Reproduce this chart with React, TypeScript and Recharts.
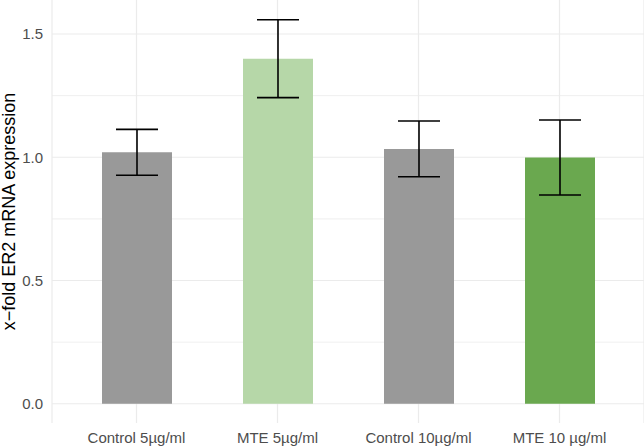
import React from "react";
import {
  BarChart,
  Bar,
  XAxis,
  YAxis,
  CartesianGrid,
  ErrorBar,
  Cell,
} from "recharts";

// Treatment groups and measured x-fold expression (mean ± error)
const groups = ["Control 5µg/ml", "MTE 5µg/ml", "Control 10µg/ml", "MTE 10 µg/ml"];
const means = [1.02, 1.4, 1.034, 0.999];
const errors = [0.093, 0.158, 0.113, 0.152];
const fills = ["#999999", "#b6d7a8", "#999999", "#6aa84f"];

const yTicks = [0, 0.5, 1.0, 1.5];
const yMinorTicks = [0.25, 0.75, 1.25];

const data = groups.map((g, i) => ({ group: g, value: means[i], err: errors[i] }));

const GRID = "#ebebeb";
const FONT = "Liberation Sans, Arial, Helvetica, sans-serif";

const YTitle = (props: any) => {
  const vb = props.viewBox || {};
  const cx = vb.x + 9;
  const cy = vb.y + vb.height / 2;
  return (
    <text
      x={cx}
      y={cy}
      transform={`rotate(-90, ${cx}, ${cy})`}
      textAnchor="middle"
      dominantBaseline="central"
      fontFamily={FONT}
      fontSize={18}
      fill="#000000"
    >
      x−fold ER2 mRNA expression
    </text>
  );
};

export default function App() {
  return (
    <div style={{ position: "absolute", left: 0, top: 0, background: "#ffffff" }}>
      <BarChart
        width={644}
        height={446}
        data={data}
        margin={{ top: 0, right: 0, bottom: 0, left: 0 }}
        barCategoryGap={0}
      >
        {/* minor horizontal grid */}
        <CartesianGrid
          stroke={GRID}
          strokeWidth={0.8}
          vertical={false}
          horizontalValues={yMinorTicks}
        />
        {/* major grid */}
        <CartesianGrid stroke={GRID} strokeWidth={1.2} horizontalValues={yTicks} />
        <XAxis
          dataKey="group"
          type="category"
          height={23}
          padding={{ left: 14, right: 14 }}
          axisLine={false}
          tickLine={false}
          tickSize={0}
          tickMargin={9.5}
          interval={0}
          tick={{ fill: "#4d4d4d", fontSize: 15, fontFamily: FONT }}
        />
        <YAxis
          type="number"
          width={52}
          domain={[-0.078, 1.638]}
          ticks={yTicks}
          tickFormatter={(v: number) => v.toFixed(1)}
          axisLine={false}
          tickLine={false}
          tickSize={0}
          tickMargin={9}
          tick={{ fill: "#4d4d4d", fontSize: 15, fontFamily: FONT }}
          label={<YTitle />}
        />
        <Bar dataKey="value" barSize={70} isAnimationActive={false}>
          {data.map((d, i) => (
            <Cell key={d.group} fill={fills[i]} />
          ))}
          <ErrorBar dataKey="err" width={21} stroke="#000000" strokeWidth={1.6} />
        </Bar>
      </BarChart>
    </div>
  );
}
